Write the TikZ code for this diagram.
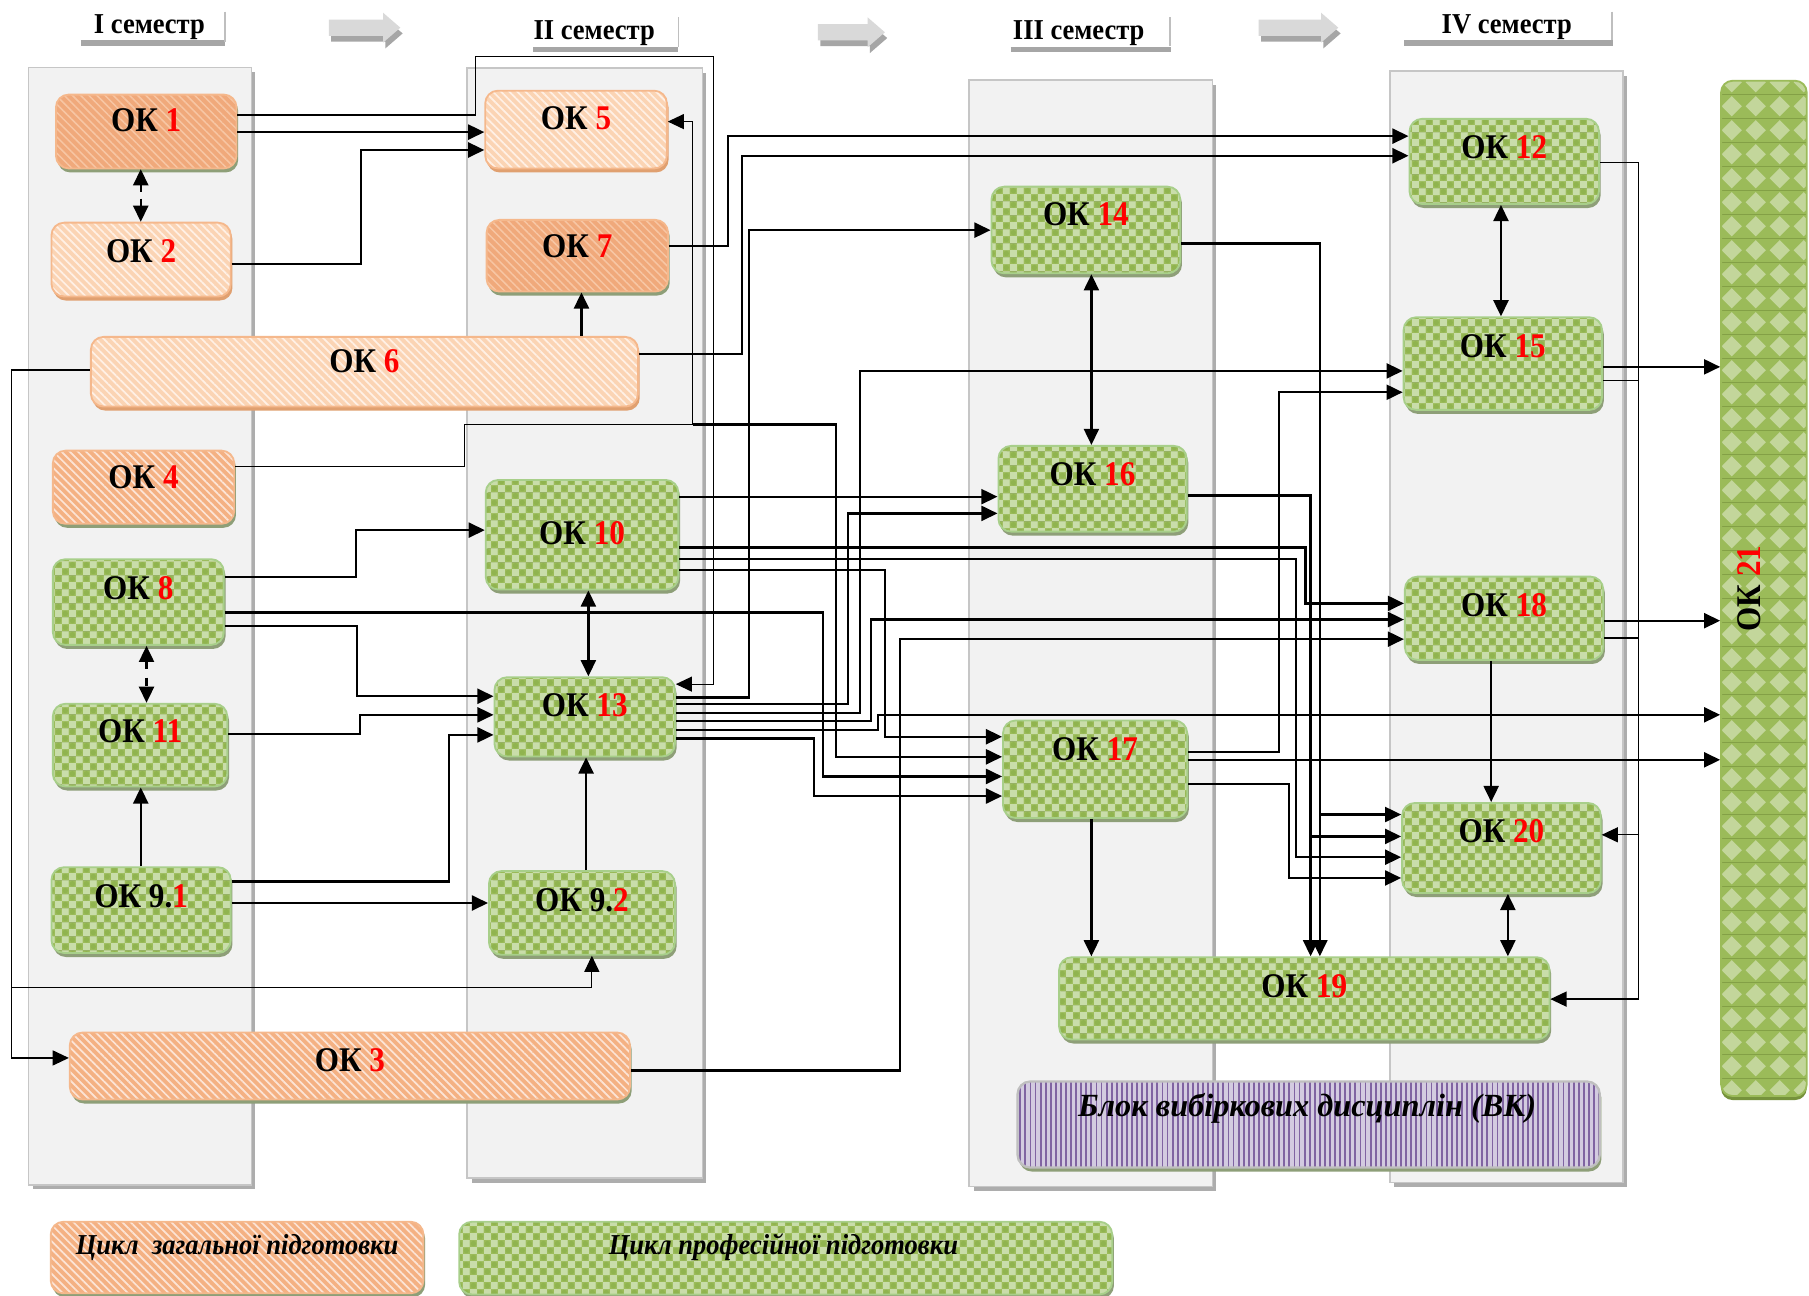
\documentclass[tikz,border=0pt]{standalone}
\usepackage{fontspec}
\setmainfont{Liberation Serif}
\newfontfamily\okfont[FakeStretch=0.9]{Liberation Serif}
\newfontfamily\hdfont[FakeStretch=0.92]{Liberation Serif}
\usetikzlibrary{arrows.meta,patterns.meta}

\definecolor{grbase}{HTML}{9BBB59}
\definecolor{grlight}{HTML}{C9DDAA}
\definecolor{grdot}{HTML}{90B44F}
\definecolor{grbd}{HTML}{A8CF8A}
\definecolor{grsh}{HTML}{8E9F78}
\definecolor{grdk}{HTML}{76923C}
\definecolor{grdlight}{HTML}{C3D69B}
\definecolor{ordark}{HTML}{F0A97B}
\definecolor{ordarkst}{HTML}{F7C6A4}
\definecolor{ormid}{HTML}{F4B183}
\definecolor{ormidst}{HTML}{FCE4D6}
\definecolor{orlight}{HTML}{FBD4B4}
\definecolor{orlightst}{HTML}{FFF0E5}
\definecolor{orbd}{HTML}{F5B88C}
\definecolor{orsh}{HTML}{E0A070}
\definecolor{pubase}{HTML}{D3CBE0}
\definecolor{pust}{HTML}{8064A2}
\definecolor{vkbd}{HTML}{BFBFBF}
\definecolor{colbg}{HTML}{F2F2F2}
\definecolor{colbd}{HTML}{C6C6C6}
\definecolor{colsh}{HTML}{ADADAD}
\definecolor{hdsh}{HTML}{A6A6A6}
\definecolor{hdrt}{HTML}{BFBFBF}
\definecolor{arlight}{HTML}{D9D9D9}
\definecolor{ardark}{HTML}{A6A6A6}
\definecolor{okred}{HTML}{FF0000}

\tikzdeclarepattern{
  name=okcheck,
  type=colored,
  bounding box={(0pt,0pt) and (12pt,12pt)},
  tile size={(12pt,12pt)},
  code={
    \fill[grbase] (0pt,0pt) rectangle (12pt,12pt);
    \fill[grlight] (0pt,0pt) rectangle (6pt,6pt);
    \fill[grlight] (6pt,6pt) rectangle (12pt,12pt);
    \fill[grdot] (3pt,9pt) circle (2.3pt);
    \fill[grdot] (9pt,3pt) circle (2.3pt);
  }
}
\tikzdeclarepattern{
  name=okdiam,
  type=colored,
  bounding box={(0pt,0pt) and (21pt,21pt)},
  tile size={(21pt,21pt)},
  code={
    \fill[grbase] (0pt,0pt) rectangle (21pt,21pt);
    \fill[grdlight] (10.5pt,1.5pt) -- (19.5pt,10.5pt) -- (10.5pt,19.5pt) -- (1.5pt,10.5pt) -- cycle;
  }
}

\newcommand{\rn}[1]{\textcolor{okred}{#1}}
\newcommand{\okbox}[8]{%
  \node[#2, minimum width={#5-#3}, minimum height={#6-#4}] (#1) at ({(#3+#5)/2},{(#4+#6)/2}) {};
  \node[oklab] (#1t) at ({(#3+#5)/2},#7) {#8};
}
\newcommand{\mygrar}[3]{%
  \begin{scope}[shift={(#1,#2)}]
    \fill[ardark] (2,5) --++(#3,0) --++(0,-6) --++(15,13) --++(-15,13) --++(0,-6) --++(-#3,0) -- cycle;
    \fill[arlight] (0,0) --++(#3,0) --++(0,-6) --++(15,13) --++(-15,13) --++(0,-6) --++(-#3,0) -- cycle;
  \end{scope}}
\newcommand{\mycol}[4]{%
  \fill[colsh] (#1+4,#2+4) rectangle (#3+3,#4+4);
  \filldraw[fill=colbg, draw=colbd, line width=1.5pt] (#1,#2) rectangle (#3,#4);}

\tikzset{
  okbase/.style={rectangle, rounded corners=11pt, line width=1.6pt, inner sep=0pt},
  shG/.style={preaction={fill=grsh, transform canvas={xshift=1.5pt,yshift=-3.5pt}}},
  shO/.style={preaction={fill=orsh, transform canvas={xshift=1.5pt,yshift=-3.5pt}}},
  okgr/.style={okbase, shG, draw=grbd, pattern=okcheck},
  ordk/.style={okbase, shG, draw=orbd, preaction={fill=ordark}, pattern={Lines[angle=-45,distance=5pt,line width=1.3pt]}, pattern color=ordarkst},
  ormd/.style={okbase, shG, draw=orbd, preaction={fill=ormid}, pattern={Lines[angle=-45,distance=5pt,line width=1.5pt]}, pattern color=ormidst},
  orlt/.style={okbase, shO, draw=orbd, preaction={fill=orlight}, pattern={Lines[angle=-45,distance=5pt,line width=1.5pt]}, pattern color=orlightst},
  okdm/.style={okbase, rounded corners=10pt, preaction={fill=grdk, transform canvas={yshift=-3.5pt}}, draw=grbase, pattern=okdiam},
  vkst/.style={okbase, line width=2pt, shG, draw=vkbd, preaction={fill=pubase}, pattern={Lines[angle=90,distance=4.4pt,line width=1.6pt]}, pattern color=pust},
  oklab/.style={font=\okfont\bfseries\fontsize{30}{34}\selectfont, inner sep=0pt},
  hdlab/.style={font=\hdfont\bfseries\fontsize{25}{29}\selectfont, inner sep=0pt},
  itlab/.style={font=\hdfont\bfseries\itshape\fontsize{25}{29}\selectfont, inner sep=0pt},
  vklab/.style={font=\bfseries\itshape\fontsize{28}{32}\selectfont, inner sep=0pt},
  hdline/.style={draw=hdsh, line width=4.5pt},
  hdright/.style={draw=hdrt, line width=1.5pt},
  thk/.style={line width=2pt},
  thn/.style={line width=1.1pt},
  >={Triangle[length=14pt,width=13pt]},
}

\begin{document}
\begin{tikzpicture}[x=1pt,y=-1pt]
\useasboundingbox (0,0) rectangle (1568,1123);
\fill[white] (0,0) rectangle (1568,1123);

% columns
\mycol{24.7}{58.6}{218}{1027}
\mycol{405}{59}{609}{1021}
\mycol{840}{69.3}{1051}{1028.5}
\mycol{1204.6}{61.5}{1407}{1025}

% headers
\draw[hdline] (70,37.3) -- (195,37.3);
\draw[hdright] (195,10) -- (195,36);
\node[hdlab, anchor=base] (h1) at (129.5,29) {I семестр};
\draw[hdline] (462,43) -- (588,43);
\draw[hdright] (588,15) -- (588,41);
\node[hdlab, anchor=base] (h2) at (515,34) {II семестр};
\draw[hdline] (876,42.6) -- (1015,42.6);
\draw[hdright] (1014,15) -- (1014,40);
\node[hdlab, anchor=base] (h3) at (935,34) {III семестр};
\draw[hdline] (1217,37.3) -- (1398,37.3);
\draw[hdright] (1397,10) -- (1397,35);
\node[hdlab, anchor=base] (h4) at (1306,29) {IV семестр};

% grey arrows
\mygrar{285}{17}{47}
\mygrar{709}{21}{43}
\mygrar{1091}{17}{54}

% nodes
\okbox{ok1}{ordk}{48.5}{82}{205}{146}{104}{ОК \rn{1}}
\okbox{ok2}{orlt}{44.6}{193}{200}{257}{218}{ОК \rn{2}}
\okbox{ok5}{orlt}{420.6}{78.6}{578}{146}{102.5}{ОК \rn{5}}
\okbox{ok7}{ordk}{421.8}{190.6}{579}{252.7}{213.8}{ОК \rn{7}}
\okbox{ok6}{orlt}{78.8}{292}{553}{352.4}{313.3}{ОК \rn{6}}
\okbox{ok4}{ormd}{45.8}{390.6}{203}{454}{414}{ОК \rn{4}}
\okbox{ok8}{okgr}{45.8}{484.7}{194}{559}{510}{ОК \rn{8}}
\okbox{ok10}{okgr}{421}{416}{588}{511}{462}{ОК \rn{10}}
\okbox{ok11}{okgr}{45.8}{610}{197}{681.7}{634}{ОК \rn{11}}
\okbox{ok13}{okgr}{428.6}{587}{585}{655.7}{611}{ОК \rn{13}}
\okbox{ok91}{okgr}{44.6}{751.7}{200}{826}{776.5}{ОК 9.\rn{1}}
\okbox{ok92}{okgr}{423.8}{755}{585}{827.6}{780}{ОК 9.\rn{2}}
\okbox{ok3}{ormd}{60.5}{895}{546}{953}{918.6}{ОК \rn{3}}
\okbox{ok14}{okgr}{859.4}{161.8}{1023}{236.9}{186}{ОК \rn{14}}
\okbox{ok16}{okgr}{865.4}{386.5}{1028.5}{460.8}{411.3}{ОК \rn{16}}
\okbox{ok17}{okgr}{869.4}{624.5}{1029}{709}{649.5}{ОК \rn{17}}
\okbox{ok19}{okgr}{918}{829.7}{1343}{901}{854.5}{ОК \rn{19}}
\okbox{ok12}{okgr}{1221.7}{103}{1385.9}{176.8}{127.7}{ОК \rn{12}}
\okbox{ok15}{okgr}{1216.6}{275}{1388.6}{355.3}{300}{ОК \rn{15}}
\okbox{ok18}{okgr}{1217.7}{499.8}{1389.6}{572}{524.6}{ОК \rn{18}}
\okbox{ok20}{okgr}{1215.3}{696}{1387.5}{774}{720}{ОК \rn{20}}

\node[okdm, minimum width=74.2, minimum height=880] (ok21) at (1528.9,510) {};
\node[oklab, rotate=90] (ok21t) at (1516,510) {ОК \rn{21}};

\node[vkst, minimum width={1386.6-882}, minimum height={1012-937.4}] (vk) at (1134.3,974.7) {};
\node[vklab, anchor=base] (vkt) at (1133,967.5) {Блок вибіркових дисциплін (ВК)};

\node[ormd, minimum width=323, minimum height=62] (leg1) at (205.5,1090) {};
\node[itlab, anchor=base] (leg1t) at (205.5,1087) {Цикл\ \ загальної підготовки};
\node[okgr, minimum width=566, minimum height=63] (leg2) at (681,1090.5) {};
\node[itlab, anchor=base] (leg2t) at (679,1087) {Цикл професійної підготовки};

% junction coordinates
\coordinate (j4) at (600.5,368);
\coordinate (j6) at (10,856);
\coordinate (j14) at (1144,706);
\coordinate (j16) at (1136,725);
\coordinate (jr15) at (1420,330);
\coordinate (jr18) at (1420,553);
\coordinate (jr20) at (1421,723.6);

% connectors, first semester
\draw[thn,->] (ok1.east |- 0,99.7) -| (412,49) -| (618.6,593) -- (ok13.east |- 0,593);
\draw[thk,->] (ok1.east |- 0,114.5) -- (ok5.west |- 0,114.5);
\draw[thk,->] (ok2.east |- 0,228.8) -| (313,130) -- (ok5.west |- 0,130);
\draw[thk,<->,dash pattern=on 6pt off 6pt] (ok1.south -| 122,0) -- (ok2.north -| 122,0);
\draw[thn,->] (ok4.east |- 0,404.4) -| (402.5,368) -| (600.5,105.4) -- (ok5.east |- 0,105.4);
\draw[thk,->] (j4) -| (724.5,656) -- (ok17.west |- 0,656);
\draw[thk,->] (ok6.north -| 504,0) -- (ok7.south -| 504,0);
\draw[thk,->] (ok6.east |- 0,307) -| (643,135) -- (ok12.west |- 0,135);
\draw[thk,->] (ok7.east |- 0,213) -| (631,118) -- (ok12.west |- 0,118);
\draw[thn,->] (ok6.west |- 0,320.6) -| (10,917) -- (ok3.west |- 0,917);
\draw[thn,->] (j6) -| (ok92.south -| 513,0);
\draw[thk,->] (ok8.east |- 0,500) -| (308.5,459.5) -- (ok10.west |- 0,459.5);
\draw[thk,->] (ok8.east |- 0,542.6) -| (309.5,603.5) -- (ok13.west |- 0,603.5);
\draw[thk,->] (ok8.east |- 0,531) -| (713.6,673) -- (ok17.west |- 0,673);
\draw[thk,<->,dash pattern=on 7pt off 7pt] (ok8.south -| 127,0) -- (ok11.north -| 127,0);
\draw[thk,->] (ok11.east |- 0,636) -| (312,619.6) -- (ok13.west |- 0,619.6);
\draw[thk,->] (ok91.north -| 122,0) -- (ok11.south -| 122,0);
\draw[thk,->] (ok91.east |- 0,764) -| (389,637) -- (ok13.west |- 0,637);
\draw[thk,->] (ok91.east |- 0,782.7) -- (ok92.west |- 0,782.7);
\draw[thk,->] (ok92.north -| 508,0) -- (ok13.south -| 508,0);
\draw[thk,<->] (ok10.south -| 510,0) -- (ok13.north -| 510,0);
\draw[thk,->] (ok3.east |- 0,928) -| (780,554) -- (ok18.west |- 0,554);

% second semester outputs
\draw[thk,->] (ok13.east |- 0,604.6) -| (649.5,199.5) -- (ok14.west |- 0,199.5);
\draw[thk,->] (ok13.east |- 0,610) -| (735,445) -- (ok16.west |- 0,445);
\draw[thk,->] (ok13.east |- 0,618) -| (745.5,321.5) -- (ok15.west |- 0,321.5);
\draw[thk,->] (ok13.east |- 0,625) -| (755,537) -- (ok18.west |- 0,537);
\draw[thk,->] (ok13.east |- 0,632.6) -| (761,619.6) -- (ok21.west |- 0,619.6);
\draw[thk,->] (ok13.east |- 0,640) -| (705.6,690) -- (ok17.west |- 0,690);
\draw[thk,->] (ok10.east |- 0,494) -| (767,638.6) -- (ok17.west |- 0,638.6);
\draw[thk,->] (ok10.east |- 0,430.5) -- (ok16.west |- 0,430.5);
\draw[thk,->] (ok10.east |- 0,474.5) -| (1131.5,523) -- (ok18.west |- 0,523);
\draw[thk,->] (ok10.east |- 0,484.5) -| (1123.6,743) -- (ok20.west |- 0,743);

% third semester outputs
\draw[thk,->] (ok14.east |- 0,211) -| (ok19.north -| 1144,0);
\draw[thk,->] (j14) -- (ok20.west |- 0,706);
\draw[thk,<->] (ok14.south -| 946,0) -- (ok16.north -| 946,0);
\draw[thk,->] (ok16.east |- 0,429.6) -| (ok19.north -| 1136,0);
\draw[thk,->] (j16) -- (ok20.west |- 0,725);
\draw[thk,->] (ok17.east |- 0,652) -| (1108.5,340) -- (ok15.west |- 0,340);
\draw[thk,->] (ok17.east |- 0,658.6) -- (ok21.west |- 0,658.6);
\draw[thk,->] (ok17.east |- 0,679.5) -| (1117,761) -- (ok20.west |- 0,761);
\draw[thk,->] (ok17.south -| 946,0) -- (ok19.north -| 946,0);

% fourth semester
\draw[thk,<->] (ok12.south -| 1301,0) -- (ok15.north -| 1301,0);
\draw[thk,->] (ok15.east |- 0,318) -- (ok21.west |- 0,318);
\draw[thk,->] (ok18.east |- 0,538) -- (ok21.west |- 0,538);
\draw[thk,->] (ok18.south -| 1292.5,0) -- (ok20.north -| 1292.5,0);
\draw[thk,<->] (ok20.south -| 1307,0) -- (ok19.north -| 1307,0);
\draw[thn,->] (ok12.east |- 0,140.7) -| (1420,866) -- (ok19.east |- 0,866);
\draw[thn] (ok15.east |- 0,330) -- (jr15);
\draw[thn] (ok18.east |- 0,553) -- (jr18);
\draw[thn,->] (jr20) -- (ok20.east |- 0,723.6);
\end{tikzpicture}
\end{document}
